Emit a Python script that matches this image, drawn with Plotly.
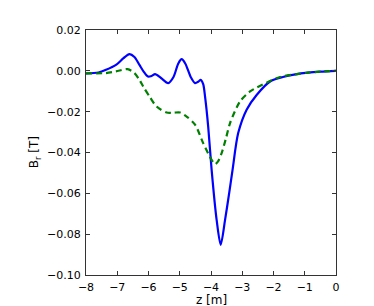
import plotly.graph_objects as go

# Blue (solid) series: z [m] and B_r [T]
z_blue = [-8.0, -7.6, -7.36, -7.04, -6.8, -6.61, -6.45, -6.29, -6.15, -6.02, -5.9, -5.79,
          -5.6, -5.37, -5.2, -5.05, -4.94, -4.82, -4.65, -4.51, -4.4, -4.33, -4.25, -4.19,
          -4.09, -3.98, -3.82, -3.69, -3.55, -3.42, -3.31, -3.13, -2.86, -2.54, -2.11,
          -1.7, -1.3, -0.9, -0.5, 0.0]
b_blue = [-0.0013, -0.0008, 0.0005, 0.0029, 0.0062, 0.0082, 0.0068, 0.0029, -0.0005, -0.0028, -0.0025, -0.0016,
          -0.0035, -0.0060, -0.0030, 0.0035, 0.0057, 0.0035, -0.0030, -0.0060, -0.0052, -0.0044, -0.0065, -0.0126,
          -0.0273, -0.0485, -0.0730, -0.0852, -0.0730, -0.0600, -0.0485, -0.0305, -0.0190, -0.0118, -0.0052,
          -0.0030, -0.0017, -0.0009, -0.0004, 0.0]

# Green (dashed) series
z_green = [-8.0, -7.36, -7.04, -6.67, -6.45, -6.29, -6.17, -5.95, -5.74, -5.42, -5.2, -4.99,
           -4.78, -4.51, -4.25, -3.98, -3.87, -3.78, -3.66, -3.52, -3.39, -3.07, -2.75,
           -2.22, -1.79, -1.3, -0.9, -0.5, 0.0]
b_green = [-0.0012, -0.0011, -0.0003, 0.0008, -0.0011, -0.0044, -0.0077, -0.0130, -0.0175, -0.0204, -0.0205, -0.0204,
           -0.0224, -0.0264, -0.0354, -0.0436, -0.0457, -0.0445, -0.0403, -0.0330, -0.0256, -0.0150, -0.0101,
           -0.0058, -0.0030, -0.0017, -0.0009, -0.0004, 0.0]

x_ticks = [-8, -7, -6, -5, -4, -3, -2, -1, 0]
x_tick_text = ["\u22128", "\u22127", "\u22126", "\u22125", "\u22124", "\u22123", "\u22122", "\u22121", "0"]
y_ticks = [0.02, 0.0, -0.02, -0.04, -0.06, -0.08, -0.10]
y_tick_text = ["0.02", "0.00", "\u22120.02", "\u22120.04", "\u22120.06", "\u22120.08", "\u22120.10"]

fig = go.Figure()
fig.add_trace(go.Scatter(x=z_blue, y=b_blue, mode="lines",
                         line=dict(color="#0000ff", width=2.2, shape="spline", smoothing=0.8)))
fig.add_trace(go.Scatter(x=z_green, y=b_green, mode="lines",
                         line=dict(color="#008000", width=2.2, dash="6px,4px", shape="spline", smoothing=0.8)))

font = dict(family="DejaVu Sans", size=11, color="black")
axis_common = dict(showgrid=False, zeroline=False, showline=True, linecolor="#333333", linewidth=1,
                   mirror="allticks", ticks="inside", ticklen=4, tickwidth=1, tickcolor="#333333",
                   tickfont=font)

fig.update_layout(
    width=374, height=306,
    margin=dict(l=86, r=38, t=30, b=31, autoexpand=False),
    paper_bgcolor="white", plot_bgcolor="white",
    showlegend=False,
    xaxis=dict(range=[-8, 0], tickvals=x_ticks, ticktext=x_tick_text, ticklabelstandoff=2, **axis_common),
    yaxis=dict(range=[-0.10, 0.02], tickvals=y_ticks, ticktext=y_tick_text, ticklabelstandoff=2, **axis_common),
    annotations=[
        dict(text="z [m]", xref="paper", yref="paper", x=0.5, y=-0.1, yanchor="middle", xanchor="center",
             showarrow=False, font=dict(family="DejaVu Sans", size=12, color="black")),
        dict(text="B<sub>r</sub> [T]", xref="paper", yref="paper", x=-0.205, y=0.5, xanchor="center",
             yanchor="middle", textangle=-90, showarrow=False,
             font=dict(family="DejaVu Sans", size=12, color="black")),
    ],
)

fig.write_html("out.html", config={"displayModeBar": False},
               post_script="document.body.style.margin='0';document.body.style.overflow='hidden';")
